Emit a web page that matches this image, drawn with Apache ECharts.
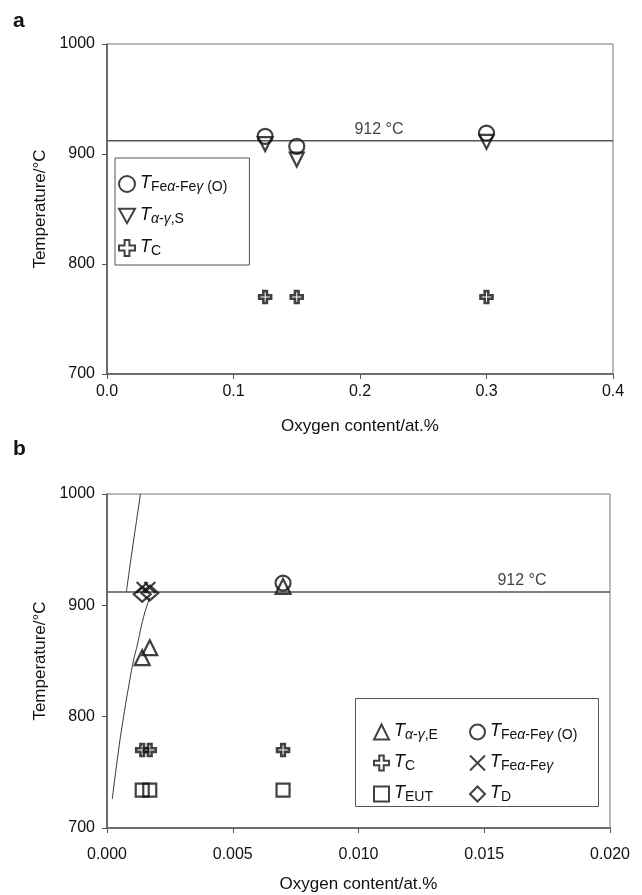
<!DOCTYPE html>
<html>
<head>
<meta charset="utf-8">
<script src="https://cdn.jsdelivr.net/npm/echarts@6/dist/echarts.min.js"></script>
<style>
html,body{margin:0;padding:0;background:#fff;}
#main{width:642px;height:895px;}
</style>
</head>
<body>
<div id="main"></div>
<script>
// panel a - oxygen content (at.%) and temperatures
var aX = [0.125, 0.15, 0.3];
var aFeO = [916, 907, 919];
var aS = [909, 895, 911];
var aC = [770, 770, 770];

// panel b
var bXE = [0.0014, 0.0017, 0.007];
var bE = [853, 862, 917];
var bXFeO = [0.007];
var bFeO = [920];
var bXC = [0.0014, 0.0017, 0.007];
var bC = [770, 770, 770];
var bXFeag = [0.0014, 0.0017];
var bFeag = [916, 916];
var bXEUT = [0.0014, 0.0017, 0.007];
var bEUT = [734, 734, 734];
var bXD = [0.0014, 0.0017];
var bD = [910, 911];
var upperX = [0.00077, 0.00091, 0.00105, 0.0012, 0.00133];
var upperT = [912, 935, 957, 980, 1000];
var lowerX = [0.00021, 0.00046, 0.00066, 0.00086, 0.00106, 0.00119, 0.00146, 0.0017];
var lowerT = [726, 770, 800, 827, 851, 863, 890, 907];
var alpha = 912;

var font = 'Liberation Sans';
var ink = '#111';

function pairs(xs, ys){
  var out = [];
  for (var i = 0; i < xs.length; i++) out.push([xs[i], ys[i]]);
  return out;
}

var crossPlus = 'path://M3.5,0 H6.5 V3.5 H10 V6.5 H6.5 V10 H3.5 V6.5 H0 V3.5 H3.5 Z';
var xMark = 'path://M0,0 L10,10 M10,0 L0,10';
var triDown = 'path://M0,0 L10,0 L5,9 Z';

function hollow(w){
  return {color: 'rgba(255,255,255,0)', borderColor: ink, borderWidth: w || 2.2};
}

var names = {
  aFeO: '{t|T}{s|Fe}{g|α}{s|-Fe}{g|γ}{s| (O)}',
  aS: '{t|T}{g|α}{s|-}{g|γ}{s|,S}',
  aC: '{t|T}{s|C}',
  bE: '{t|T}{g|α}{s|-}{g|γ}{s|,E}',
  bFeO: '{t|T}{s|Fe}{g|α}{s|-Fe}{g|γ}{s| (O)}',
  bC: '{t|T}{s|C}',
  bFeag: '{t|T}{s|Fe}{g|α}{s|-Fe}{g|γ}',
  bEUT: '{t|T}{s|EUT}',
  bD: '{t|T}{s|D}'
};

var rich = {
  t: {fontFamily: font, fontSize: 18, fontStyle: 'italic', color: ink, lineHeight: 20, verticalAlign: 'top'},
  s: {fontFamily: font, fontSize: 14, color: ink, lineHeight: 14, verticalAlign: 'bottom', padding: [11, 0, 0, 0]},
  g: {fontFamily: font, fontSize: 14, fontStyle: 'italic', color: ink, lineHeight: 14, verticalAlign: 'bottom', padding: [11, 0, 0, 0]}
};

function legendFmt(n){ return names[n]; }

function yAxis(gi){
  return {
    gridIndex: gi, type: 'value', min: 700, max: 1000, interval: 100,
    name: 'Temperature/°C', nameLocation: 'middle', nameGap: 58,
    nameTextStyle: {fontFamily: font, fontSize: 17, color: ink},
    axisLine: {show: true, lineStyle: {color: '#555', width: 1.5}},
    axisTick: {show: true, length: 5, lineStyle: {color: '#555'}},
    axisLabel: {fontFamily: font, fontSize: 16, color: ink, margin: 12,
      formatter: function(v){ return String(v); }},
    splitLine: {show: false}
  };
}
function xAxis(gi, max, iv, dec, gap, margin){
  return {
    gridIndex: gi, type: 'value', min: 0, max: max, interval: iv,
    name: 'Oxygen content/at.%', nameLocation: 'middle', nameGap: gap,
    nameTextStyle: {fontFamily: font, fontSize: 17, color: ink},
    axisLine: {show: true, onZero: false, lineStyle: {color: '#555', width: 1.5}},
    axisTick: {show: true, length: 5, lineStyle: {color: '#555'}},
    axisLabel: {fontFamily: font, fontSize: 16, color: ink, margin: margin,
      formatter: function(v){ return v.toFixed(dec); }},
    splitLine: {show: false}
  };
}

function scat(name, gi, data, symbol, size, extra){
  var s = {
    name: name, type: 'scatter', xAxisIndex: gi, yAxisIndex: gi,
    data: data, symbol: symbol, symbolSize: size,
    itemStyle: hollow(), z: 5
  };
  for (var k in extra) s[k] = extra[k];
  return s;
}

function alphaLine(gi, x0, x1, xl){
  return [{
    type: 'line', xAxisIndex: gi, yAxisIndex: gi, silent: true,
    data: [[x0, alpha], [x1, alpha]], symbol: 'none',
    lineStyle: {color: '#555', width: 1.5}, z: 2
  }, {
    type: 'scatter', xAxisIndex: gi, yAxisIndex: gi, silent: true,
    data: [[xl, alpha]], symbolSize: 0,
    label: {show: true, position: 'top', distance: 3, formatter: '912 °C',
      fontFamily: font, fontSize: 16, color: ink}
  }];
}

var legendIcons = {aS: triDown};
function legendData(list){
  return list.map(function(n){
    return legendIcons[n] ? {name: n, icon: legendIcons[n]} : n;
  });
}

var chart = echarts.init(document.getElementById('main'));
var option = {
  animation: false,
  backgroundColor: '#fff',
  title: [
    {text: 'a', left: 8, top: 6, textStyle: {fontFamily: font, fontSize: 21, fontWeight: 'bold', color: ink}},
    {text: 'b', left: 8, top: 434, textStyle: {fontFamily: font, fontSize: 21, fontWeight: 'bold', color: ink}}
  ],
  grid: [
    {left: 107, right: 29, top: 44, height: 330, show: true, borderColor: '#777', borderWidth: 1},
    {left: 107, right: 32, top: 494, height: 334, show: true, borderColor: '#777', borderWidth: 1}
  ],
  xAxis: [xAxis(0, 0.4, 0.1, 1, 44, 10), xAxis(1, 0.02, 0.005, 3, 48, 19)],
  yAxis: [yAxis(0), yAxis(1)],
  legend: [
    {
      orient: 'vertical', left: 115, top: 158,
      data: legendData(['aFeO', 'aS', 'aC']), formatter: legendFmt,
      textStyle: {rich: rich}, itemGap: 7, itemWidth: 16, itemHeight: 16,
      borderColor: '#555', borderWidth: 1, padding: [11, 22, 7, 3],
      backgroundColor: '#fff'
    },
    {
      orient: 'vertical', left: 368, top: 712,
      data: legendData(['bE', 'bC', 'bEUT']), formatter: legendFmt,
      textStyle: {rich: rich}, itemGap: 6, itemWidth: 15, itemHeight: 15
    },
    {
      orient: 'vertical', left: 464, top: 712,
      data: legendData(['bFeO', 'bFeag', 'bD']), formatter: legendFmt,
      textStyle: {rich: rich}, itemGap: 6, itemWidth: 15, itemHeight: 15
    }
  ],
  graphic: [{
    type: 'rect', left: 355, top: 698, z: 0,
    shape: {width: 243, height: 108},
    style: {fill: '#fff', stroke: '#555', lineWidth: 1}
  }],
  series: [].concat(
    alphaLine(0, 0, 0.4, 0.215),
    alphaLine(1, 0, 0.02, 0.0165),
    [
      scat('aFeO', 0, pairs(aX, aFeO), 'circle', 15),
      scat('aS', 0, pairs(aX, aS), triDown, 14),
      scat('aC', 0, pairs(aX, aC), crossPlus, 12, {itemStyle: hollow(2.6)}),
      {
        type: 'line', xAxisIndex: 1, yAxisIndex: 1, silent: true, smooth: true,
        data: pairs(upperX, upperT), symbol: 'none',
        lineStyle: {color: '#333', width: 1}, z: 3
      },
      {
        type: 'line', xAxisIndex: 1, yAxisIndex: 1, silent: true, smooth: true,
        data: pairs(lowerX, lowerT), symbol: 'none',
        lineStyle: {color: '#333', width: 1}, z: 3
      },
      scat('bE', 1, pairs(bXE, bE), 'triangle', 15),
      scat('bFeO', 1, pairs(bXFeO, bFeO), 'circle', 15),
      scat('bC', 1, pairs(bXC, bC), crossPlus, 12, {itemStyle: hollow(2.6)}),
      scat('bFeag', 1, pairs(bXFeag, bFeag), xMark, 11),
      scat('bEUT', 1, pairs(bXEUT, bEUT), 'rect', 13),
      scat('bD', 1, pairs(bXD, bD), 'diamond', [17, 15])
    ]
  )
};
chart.setOption(option);
</script>
</body>
</html>
